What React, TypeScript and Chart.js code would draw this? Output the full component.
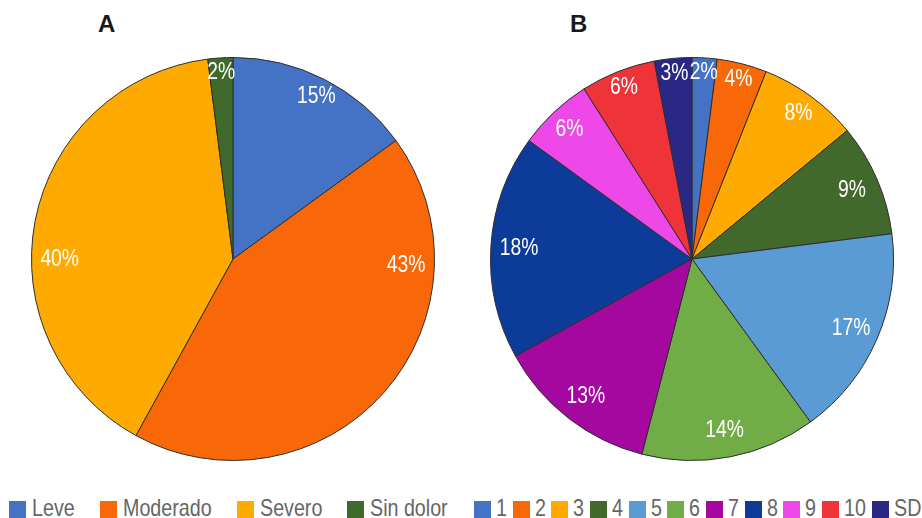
import React, { useEffect, useRef } from "react";
import { Chart, registerables } from "chart.js";

Chart.register(...registerables);

// Panel A: pain intensity
const painLevels = ["Leve", "Moderado", "Severo", "Sin dolor"];
const painShares = [15, 43, 40, 2];
const painColors = ["#4472C4", "#F96808", "#FFAA00", "#3F6A2B"];

// Panel B: pain score
const scoreLabels = ["1", "2", "3", "4", "5", "6", "7", "8", "9", "10", "SD"];
const scoreShares = [2, 4, 8, 9, 17, 14, 13, 18, 6, 6, 3];
const scoreColors = [
  "#4472C4", "#F96808", "#FFAA00", "#41692B", "#5B9BD5", "#70AD47",
  "#A4089F", "#0D3B9A", "#EE48E8", "#EE3339", "#2B2885",
];

// Condensed look: Liberation Sans squeezed horizontally.
const SANS = "'Liberation Sans', Arial, sans-serif";
const LABEL_SIZE = 23;
const LABEL_SQUEEZE = 0.84;
const LEGEND_SIZE = 24;
const LEGEND_SQUEEZE = 0.82;

// Angle measured clockwise from 12 o'clock, in degrees, for a canvas angle.
const fromTop = (a: number) => ((a * 180) / Math.PI + 90 + 360) % 360;
const toCanvas = (deg: number) => ((deg - 90) * Math.PI) / 180;

// Percent labels inside each slice. Very wide slices put their label on the
// horizontal axis when it crosses them; labels near the top sit closer to the rim.
const sliceLabels = {
  id: "sliceLabels",
  afterDatasetsDraw(chart: any) {
    const ctx = chart.ctx as CanvasRenderingContext2D;
    const meta = chart.getDatasetMeta(0);
    const values = chart.data.datasets[0].data as number[];
    ctx.save();
    ctx.fillStyle = "#ffffff";
    ctx.font = `${LABEL_SIZE}px ${SANS}`;
    ctx.textAlign = "center";
    ctx.textBaseline = "middle";
    meta.data.forEach((arc: any, i: number) => {
      const { x, y, startAngle, endAngle, outerRadius } = arc.getProps(
        ["x", "y", "startAngle", "endAngle", "outerRadius"],
        true
      );
      const s = fromTop(startAngle);
      let e = fromTop(endAngle);
      if (e <= s) e += 360;
      let deg = (s + e) / 2;
      if (e - s > 120) {
        if (s < 92 && e > 92) deg = 92;
        else if (s < 270 && e > 270) deg = 270;
      }
      const mid = toCanvas(deg);
      const up = Math.max(0, -Math.sin(mid));
      const r = outerRadius * (0.86 + 0.072 * Math.pow(up, 3));
      ctx.save();
      ctx.translate(x + r * Math.cos(mid), y + r * Math.sin(mid) + 1);
      ctx.scale(LABEL_SQUEEZE, 1);
      ctx.fillText(`${values[i]}%`, 0, 0);
      ctx.restore();
    });
    ctx.restore();
  },
};

function Pie({ labels, data, colors, left, top }: {
  labels: string[]; data: number[]; colors: string[]; left: number; top: number;
}) {
  const ref = useRef<HTMLCanvasElement | null>(null);
  useEffect(() => {
    if (!ref.current) return;
    const chart = new Chart(ref.current, {
      type: "pie",
      data: {
        labels,
        datasets: [{
          data,
          backgroundColor: colors,
          borderColor: "#2e2e2e",
          borderWidth: 1,
        }],
      },
      options: {
        responsive: false,
        animation: false,
        layout: { padding: 3 },
        events: [],
        plugins: {
          legend: { display: false },
          tooltip: { enabled: false },
        },
      },
      plugins: [sliceLabels],
    });
    return () => chart.destroy();
  }, []);
  return (
    <canvas
      ref={ref}
      width={410}
      height={410}
      style={{ position: "absolute", left, top, width: 410, height: 410 }}
    />
  );
}

let measurer: CanvasRenderingContext2D | null = null;
function squeezedWidth(text: string) {
  if (!measurer) measurer = document.createElement("canvas").getContext("2d");
  measurer!.font = `${LEGEND_SIZE}px ${SANS}`;
  return measurer!.measureText(text).width * LEGEND_SQUEEZE;
}

function Legend({ labels, colors, left, width, textGap }: {
  labels: string[]; colors: string[]; left: number; width: number; textGap: number;
}) {
  return (
    <div
      style={{
        position: "absolute", left, top: 496, width, height: 24,
        display: "flex", justifyContent: "space-between", alignItems: "center",
        fontFamily: SANS, fontSize: LEGEND_SIZE, lineHeight: "24px", color: "#666666",
        whiteSpace: "nowrap",
      }}
    >
      {labels.map((label, i) => (
        <div key={label} style={{ display: "flex", alignItems: "center" }}>
          <span style={{
            display: "inline-block", width: 17, height: 17,
            background: colors[i], marginRight: textGap, marginTop: 2,
          }} />
          <span style={{ display: "inline-block", width: squeezedWidth(label), height: 24 }}>
            <span style={{
              display: "inline-block", transform: `scaleX(${LEGEND_SQUEEZE})`,
              transformOrigin: "0 50%",
            }}>{label}</span>
          </span>
        </div>
      ))}
    </div>
  );
}

const titleStyle: React.CSSProperties = {
  position: "absolute", top: 12, fontFamily: SANS,
  fontWeight: "bold", fontSize: 24, lineHeight: "24px", color: "#1a1a1a",
};

export default function App() {
  return (
    <div style={{
      position: "fixed", left: 0, top: 0, width: 922, height: 518,
      background: "#ffffff", overflow: "hidden",
    }}>
      <div style={{ ...titleStyle, left: 98 }}>A</div>
      <div style={{ ...titleStyle, left: 570 }}>B</div>
      <Pie labels={painLevels} data={painShares} colors={painColors} left={28} top={54} />
      <Pie labels={scoreLabels} data={scoreShares} colors={scoreColors} left={487} top={54} />
      <Legend labels={painLevels} colors={painColors} left={9} width={439} textGap={6} />
      <Legend labels={scoreLabels} colors={scoreColors} left={474} width={447} textGap={5} />
    </div>
  );
}
